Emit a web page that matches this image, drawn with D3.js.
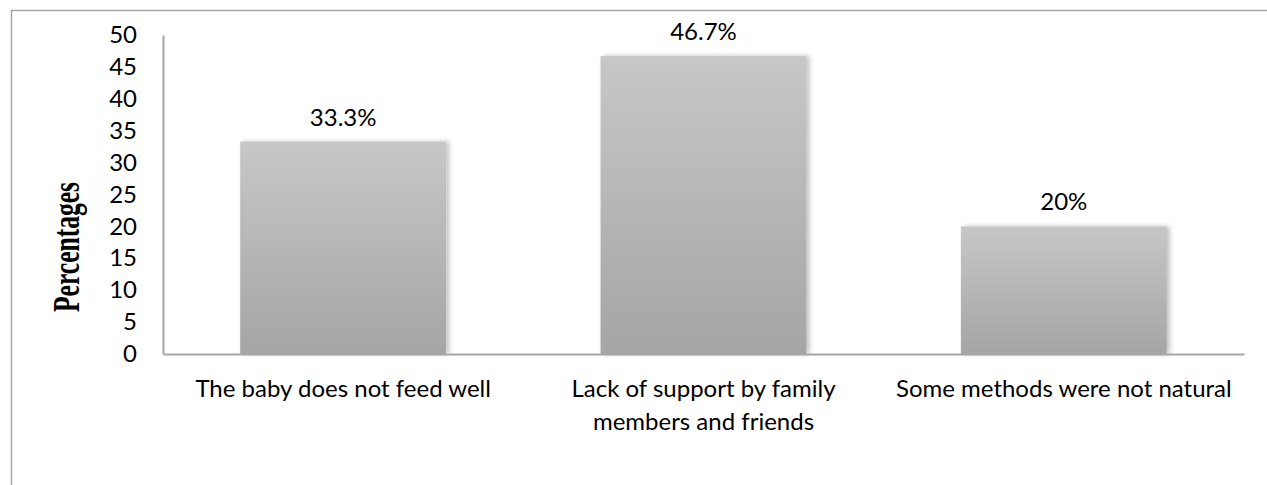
<!DOCTYPE html>
<html>
<head>
<meta charset="utf-8">
<script src="https://cdn.jsdelivr.net/npm/d3@7"></script>
<style>
  html, body { margin: 0; padding: 0; background: #fff; }
  svg { display: block; }
</style>
</head>
<body>
<svg id="chart" width="1267" height="485"></svg>
<script>
// Reasons given, share of respondents (%)
const categories = [
  "The baby does not feed well",
  "Lack of support by family members and friends",
  "Some methods were not natural"
];
const values = [33.3, 46.7, 20];
const valueLabels = ["33.3%", "46.7%", "20%"];
const yTicks = [0, 5, 10, 15, 20, 25, 30, 35, 40, 45, 50];
const yTitle = "Percentages";

// Category labels are wrapped onto lines the way the axis shows them
const categoryLines = [
  ["The baby does not feed well"],
  ["Lack of support by family", "members and friends"],
  ["Some methods were not natural"]
];

const W = 1267, H = 485;
const plot = { left: 163, right: 1244, top: 35, bottom: 354 };
const labelFont = "Lato, 'Open Sans', sans-serif";
const labelSize = 24;

const svg = d3.select("#chart");

const defs = svg.append("defs");
const grad = defs.append("linearGradient")
  .attr("id", "barFill").attr("x1", 0).attr("y1", 0).attr("x2", 0).attr("y2", 1);
grad.append("stop").attr("offset", "0%").attr("stop-color", "#c7c7c7");
grad.append("stop").attr("offset", "100%").attr("stop-color", "#a5a5a5");

const shadow = defs.append("filter").attr("id", "barShadow")
  .attr("x", "-10%").attr("y", "-10%").attr("width", "120%").attr("height", "120%");
shadow.append("feGaussianBlur").attr("in", "SourceAlpha").attr("stdDeviation", 2.5).attr("result", "blur");
shadow.append("feOffset").attr("in", "blur").attr("dx", 3).attr("dy", 0).attr("result", "off");
shadow.append("feComponentTransfer").attr("in", "off").attr("result", "soft")
  .append("feFuncA").attr("type", "linear").attr("slope", 0.25);
const merge = shadow.append("feMerge");
merge.append("feMergeNode").attr("in", "soft");
merge.append("feMergeNode").attr("in", "SourceGraphic");

// Outer chart frame (left and top edges)
svg.append("path")
  .attr("d", `M11.5,${H} V10.5 H${W}`)
  .attr("fill", "none").attr("stroke", "#a6a6a6").attr("stroke-width", 1.5);

const x = d3.scaleBand()
  .domain(categories)
  .range([plot.left, plot.right])
  .paddingInner(0.75 / 1.75)
  .paddingOuter(0.75 / 3.5);

const y = d3.scaleLinear().domain([0, 50]).range([plot.bottom, plot.top]);

// Bars
svg.append("g").selectAll("rect")
  .data(values)
  .join("rect")
  .attr("x", (d, i) => x(categories[i]))
  .attr("y", d => y(d))
  .attr("width", x.bandwidth())
  .attr("height", d => y(0) - y(d))
  .attr("fill", "url(#barFill)")
  .attr("filter", "url(#barShadow)");

// Value labels above bars
svg.append("g").selectAll("text")
  .data(values)
  .join("text")
  .attr("x", (d, i) => x(categories[i]) + x.bandwidth() / 2)
  .attr("y", d => y(d) - 16)
  .attr("text-anchor", "middle")
  .attr("font-family", labelFont)
  .attr("font-size", labelSize)
  .attr("fill", "#000")
  .text((d, i) => valueLabels[i]);

// Y axis
const yAxis = d3.axisLeft(y).tickValues(yTicks).tickSize(0).tickPadding(26);
const gy = svg.append("g").attr("transform", `translate(${plot.left},0)`).call(yAxis);
gy.select(".domain").attr("stroke", "#a6a6a6").attr("stroke-width", 2);
gy.selectAll("text")
  .attr("font-family", labelFont)
  .attr("font-size", labelSize)
  .attr("fill", "#000");

// X axis
const xAxis = d3.axisBottom(x).tickSize(0).tickFormat("");
const gx = svg.append("g").attr("transform", `translate(0,${plot.bottom})`).call(xAxis);
gx.select(".domain").attr("stroke", "#a6a6a6").attr("stroke-width", 2);

const xl = svg.append("g");
categories.forEach((c, i) => {
  const t = xl.append("text")
    .attr("x", x(c) + x.bandwidth() / 2)
    .attr("y", 397)
    .attr("text-anchor", "middle")
    .attr("font-family", labelFont)
    .attr("font-size", labelSize)
    .attr("fill", "#000");
  categoryLines[i].forEach((line, j) => {
    t.append("tspan")
      .attr("x", x(c) + x.bandwidth() / 2)
      .attr("dy", j === 0 ? 0 : 33)
      .text(line);
  });
});

// Y axis title
svg.append("text")
  .attr("transform", "translate(79,247) rotate(-90)")
  .attr("text-anchor", "middle")
  .attr("font-family", "'Liberation Serif', 'DejaVu Serif', serif")
  .attr("font-weight", "bold")
  .attr("font-size", 38)
  .attr("textLength", 130)
  .attr("lengthAdjust", "spacingAndGlyphs")
  .attr("fill", "#000")
  .text(yTitle);
</script>
</body>
</html>
